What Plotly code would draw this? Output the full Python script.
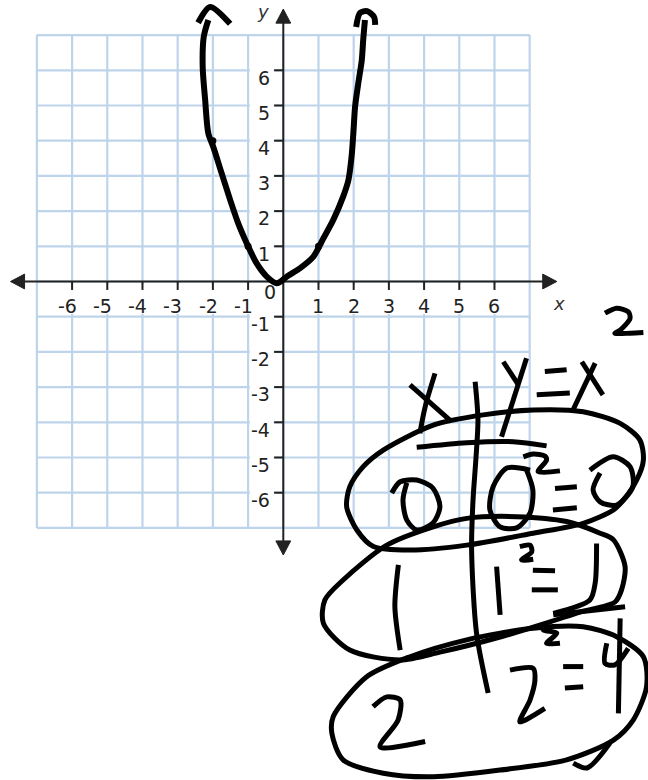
import plotly.graph_objects as go

# ---- coordinate plane --------------------------------------------------
grid_ticks = list(range(-7, 8))
label_ticks = [-6, -5, -4, -3, -2, -1, 1, 2, 3, 4, 5, 6]

# ---- hand-drawn graph of y = x^2 (graph units) -------------------------
curve_x = [-2.13, -2.26, -2.29, -2.22, -2.13, -1.99, -1.75, -1.51, -1.28, -1.04,
           -0.76, -0.47, -0.19, -0.09, 0.10, 0.47, 0.85, 1.14, 1.42, 1.70, 1.85,
           1.94, 1.99, 2.04, 2.13, 2.23, 2.27, 2.32]
curve_y = [7.43, 6.95, 6.10, 5.16, 4.21, 3.83, 3.07, 2.32, 1.65, 1.09,
           0.52, 0.14, -0.05, -0.01, 0.14, 0.375, 0.70, 1.23, 1.75, 2.41, 2.88,
           3.55, 4.21, 4.97, 5.63, 6.29, 6.86, 7.43]
left_head_x = [-2.42, -2.08, -1.51]
left_head_y = [7.35, 7.80, 7.32]
right_head_x = [2.07, 2.18, 2.38, 2.58, 2.61]
right_head_y = [7.23, 7.63, 7.68, 7.51, 7.29]
plotted_x = [-2, -1, 1]
plotted_y = [4, 1, 1]

# ---- hand-written table of values --------------------------------------
sq_x = [9.14, 9.47, 9.80, 9.85, 9.57, 9.42, 9.85, 10.23]
sq_y = [-0.90, -0.76, -0.86, -1.05, -1.38, -1.47, -1.47, -1.45]

hx_a_x = [3.60, 4.78]
hx_a_y = [-2.94, -3.98]
hx_b_x = [4.31, 4.03, 3.88]
hx_b_y = [-2.61, -3.56, -4.31]

divider_x = [5.45, 5.53, 5.47, 5.39, 5.35, 5.49, 5.82]
divider_y = [-2.85, -3.93, -5.07, -6.21, -7.63, -9.99, -11.69]

hy_short_x = [6.25, 6.68]
hy_short_y = [-2.28, -2.94]
hy_long_x = [6.91, 6.20]
hy_long_y = [-2.18, -4.41]
heq_top_x = [7.43, 8.05]
heq_top_y = [-2.56, -2.51]
heq_bot_x = [7.20, 8.14]
heq_bot_y = [-3.22, -3.17]
hx2_a_x = [8.48, 9.08]
hx2_a_y = [-2.28, -3.22]
hx2_b_x = [8.86, 8.23]
hx2_b_y = [-2.32, -3.65]
underline_x = [3.79, 5.21, 6.53, 7.48]
underline_y = [-4.71, -4.58, -4.55, -4.67]

ring1_x = [2.27, 2.84, 4.26, 5.68, 7.10, 8.52, 9.57, 10.13, 10.23, 10.04, 9.66,
           9.38, 8.52, 7.10, 5.21, 3.60, 2.56, 2.09, 1.80, 1.89, 2.27]
ring1_y = [-5.26, -4.79, -4.08, -3.79, -3.65, -3.70, -4.03, -4.50, -5.07, -5.64,
           -6.21, -6.49, -6.87, -7.15, -7.49, -7.63, -7.53, -7.06, -6.40, -5.83, -5.26]
r1_zero_a_x = [3.08, 3.32, 3.79, 4.25, 4.45, 4.25, 3.79, 3.51, 3.40, 3.51]
r1_zero_a_y = [-6.01, -5.69, -5.64, -5.87, -6.40, -6.86, -7.06, -6.78, -6.21, -5.72]
r1_zero_b_x = [7.01, 6.35, 5.96, 5.87, 6.16, 6.63, 7.01, 7.09, 6.91]
r1_zero_b_y = [-5.36, -5.30, -5.83, -6.49, -6.97, -7.00, -6.58, -5.92, -5.36]
r1_sq_x = [6.82, 7.10, 7.43, 7.48, 7.24, 7.86]
r1_sq_y = [-4.98, -4.90, -4.96, -5.07, -5.40, -5.38]
r1_eq_top_x = [7.72, 8.34]
r1_eq_top_y = [-5.88, -5.83]
r1_eq_bot_x = [7.66, 8.34]
r1_eq_bot_y = [-6.49, -6.43]
r1_zero_c_x = [8.71, 9.37, 9.85, 9.93, 9.47, 9.00, 8.80, 9.00]
r1_zero_c_y = [-5.36, -4.98, -5.26, -5.83, -6.35, -6.26, -5.92, -5.44]

ring2_x = [1.70, 2.94, 4.26, 5.21, 6.63, 8.05, 9.00, 9.38, 9.71, 9.61, 9.42,
           8.43, 7.58, 6.16, 4.45, 3.32, 1.89, 1.14, 1.18, 1.70]
ring2_y = [-8.48, -7.49, -6.97, -6.73, -6.68, -6.82, -7.15, -7.34, -8.10, -8.76, -9.11,
           -9.39, -9.67, -10.10, -10.53, -10.75, -10.47, -9.71, -9.05, -8.48]
r2_one_a_x = [3.27, 3.17, 3.32]
r2_one_a_y = [-8.05, -9.24, -10.47]
r2_one_b_x = [6.06, 6.16]
r2_one_b_y = [-8.10, -9.47]
r2_sq_x = [6.72, 7.01, 7.06, 6.77, 7.10]
r2_sq_y = [-7.53, -7.49, -7.68, -7.91, -7.89]
r2_eq_top_x = [7.09, 7.72]
r2_eq_top_y = [-8.20, -8.22]
r2_eq_bot_x = [7.06, 7.80]
r2_eq_bot_y = [-8.76, -8.76]
r2_one_c_x = [8.90, 8.86, 8.71, 7.67]
r2_one_c_y = [-7.44, -8.57, -9.05, -9.43]
r2_base_x = [7.67, 9.71]
r2_base_y = [-9.47, -9.24]

ring3_x = [1.42, 2.37, 3.60, 5.21, 7.10, 8.52, 9.47, 10.23, 10.32, 9.94, 9.38,
           8.05, 6.16, 4.26, 2.84, 1.70, 1.38, 1.42]
ring3_y = [-12.36, -11.23, -10.66, -10.18, -9.85, -9.81, -10.09, -10.66, -11.51, -12.46,
           -13.03, -13.59, -13.88, -14.07, -13.97, -13.59, -12.84, -12.36]
ring3_tail_x = [8.24, 8.63, 9.28]
ring3_tail_y = [-13.68, -13.82, -13.11]
r3_sq_x = [7.34, 7.39, 7.77, 7.48, 7.86]
r3_sq_y = [-9.81, -9.90, -9.99, -10.28, -10.28]
r3_two_a_x = [2.55, 2.94, 3.32, 3.26, 2.75, 4.03]
r3_two_a_y = [-12.08, -11.80, -11.89, -12.46, -13.22, -13.07]
r3_two_b_x = [6.44, 7.10, 7.15, 7.01, 6.72, 7.43]
r3_two_b_y = [-11.04, -10.99, -11.32, -11.89, -12.51, -12.13]
r3_eq_top_x = [7.95, 8.52]
r3_eq_top_y = [-10.94, -10.94]
r3_eq_bot_x = [8.00, 8.52]
r3_eq_bot_y = [-11.55, -11.51]
r3_four_a_x = [9.57, 9.52]
r3_four_a_y = [-9.57, -12.27]
r3_four_b_x = [9.19, 9.14, 9.42, 9.80]
r3_four_b_y = [-10.28, -10.85, -10.89, -10.42]

GRID = "#bed4ea"
AXIS = "#222222"
INK = "#000000"
FONT = "DejaVu Sans, Verdana, sans-serif"

fig = go.Figure()
shapes = []

# light-blue grid, limited to the -7..7 square
for t in grid_ticks:
    shapes.append(dict(type="line", x0=t, x1=t, y0=-7, y1=7,
                       line=dict(color=GRID, width=2.2), layer="below"))
    shapes.append(dict(type="line", x0=-7, x1=7, y0=t, y1=t,
                       line=dict(color=GRID, width=2.2), layer="below"))

# white patches behind the tick labels
for t in label_ticks:
    shapes.append(dict(type="rect", x0=t - 0.47, x1=t + 0.47, y0=-0.92, y1=-0.07,
                       fillcolor="white", line=dict(width=0), layer="below"))
    shapes.append(dict(type="rect", x0=-0.95, x1=-0.27, y0=t - 0.55, y1=t + 0.13,
                       fillcolor="white", line=dict(width=0), layer="below"))

# axes with arrowheads
shapes.append(dict(type="line", x0=-7.5, x1=7.5, y0=0, y1=0,
                   line=dict(color=AXIS, width=2), layer="below"))
shapes.append(dict(type="line", x0=0, x1=0, y0=-7.5, y1=7.5,
                   line=dict(color=AXIS, width=2), layer="below"))
head_len, head_half = 0.40, 0.21
arrow_paths = [
    f"M {-7.75} 0 L {-7.75 + head_len} {head_half} L {-7.75 + head_len} {-head_half} Z",
    f"M {7.77} 0 L {7.77 - head_len} {head_half} L {7.77 - head_len} {-head_half} Z",
    f"M 0 {7.74} L {head_half} {7.74 - head_len} L {-head_half} {7.74 - head_len} Z",
    f"M 0 {-7.77} L {head_half} {-7.77 + head_len} L {-head_half} {-7.77 + head_len} Z",
]
for p in arrow_paths:
    shapes.append(dict(type="path", path=p, fillcolor=AXIS,
                       line=dict(color=AXIS, width=1), layer="below"))

# tick marks
for t in label_ticks:
    shapes.append(dict(type="line", x0=t, x1=t, y0=0, y1=-0.24,
                       line=dict(color=AXIS, width=2), layer="below"))
    shapes.append(dict(type="line", x0=-0.26, x1=0, y0=t, y1=t,
                       line=dict(color=AXIS, width=2), layer="below"))

annotations = []
for t in label_ticks:
    if t < 0:
        annotations.append(dict(x=t + 0.19, y=-0.7, text=str(t),
                                xanchor="right", yanchor="middle", showarrow=False))
    else:
        annotations.append(dict(x=t, y=-0.7, text=str(t),
                                xanchor="center", yanchor="middle", showarrow=False))
    annotations.append(dict(x=-0.33, y=t - 0.21, text=str(t),
                            xanchor="right", yanchor="middle", showarrow=False))
annotations.append(dict(x=-0.38, y=-0.3, text="0", xanchor="center",
                        yanchor="middle", showarrow=False))
for a in annotations:
    a["font"] = dict(family=FONT, size=19, color=AXIS)
annotations.append(dict(x=7.82, y=-0.62, text="<i>x</i>", showarrow=False,
                        font=dict(family=FONT, size=18, color="#333")))
annotations.append(dict(x=-0.57, y=7.67, text="<i>y</i>", showarrow=False,
                        font=dict(family=FONT, size=18, color="#333")))


def ink(xs, ys, width=5, smooth=True):
    fig.add_trace(go.Scatter(
        x=xs, y=ys, mode="lines", hoverinfo="skip", showlegend=False,
        line=dict(color=INK, width=width,
                  shape="spline" if smooth else "linear", smoothing=0.8)))


# parabola
ink(curve_x, curve_y, 6)
ink(left_head_x, left_head_y, 6)
ink(right_head_x, right_head_y, 6)
fig.add_trace(go.Scatter(x=plotted_x, y=plotted_y, mode="markers", hoverinfo="skip",
                         showlegend=False, marker=dict(color=INK, size=7)))

# table
strokes = [
    (sq_x, sq_y), (hx_a_x, hx_a_y), (hx_b_x, hx_b_y), (divider_x, divider_y),
    (hy_short_x, hy_short_y), (hy_long_x, hy_long_y), (heq_top_x, heq_top_y),
    (heq_bot_x, heq_bot_y), (hx2_a_x, hx2_a_y), (hx2_b_x, hx2_b_y),
    (underline_x, underline_y),
    (ring1_x, ring1_y), (r1_zero_a_x, r1_zero_a_y), (r1_zero_b_x, r1_zero_b_y),
    (r1_sq_x, r1_sq_y), (r1_eq_top_x, r1_eq_top_y), (r1_eq_bot_x, r1_eq_bot_y),
    (r1_zero_c_x, r1_zero_c_y),
    (ring2_x, ring2_y), (r2_one_a_x, r2_one_a_y), (r2_one_b_x, r2_one_b_y),
    (r2_sq_x, r2_sq_y), (r2_eq_top_x, r2_eq_top_y), (r2_eq_bot_x, r2_eq_bot_y),
    (r2_one_c_x, r2_one_c_y), (r2_base_x, r2_base_y),
    (ring3_x, ring3_y), (ring3_tail_x, ring3_tail_y), (r3_sq_x, r3_sq_y),
    (r3_two_a_x, r3_two_a_y), (r3_two_b_x, r3_two_b_y),
    (r3_eq_top_x, r3_eq_top_y), (r3_eq_bot_x, r3_eq_bot_y),
    (r3_four_a_x, r3_four_a_y), (r3_four_b_x, r3_four_b_y),
]
for xs, ys in strokes:
    ink(xs, ys, 5)

fig.update_layout(
    width=648, height=780,
    margin=dict(l=0, r=0, t=0, b=0),
    paper_bgcolor="white", plot_bgcolor="white",
    shapes=shapes, annotations=annotations,
    xaxis=dict(range=[-8.048, 10.361], visible=False, fixedrange=True),
    yaxis=dict(range=[-14.162, 7.997], visible=False, fixedrange=True),
)

fig.write_html("out.html")
